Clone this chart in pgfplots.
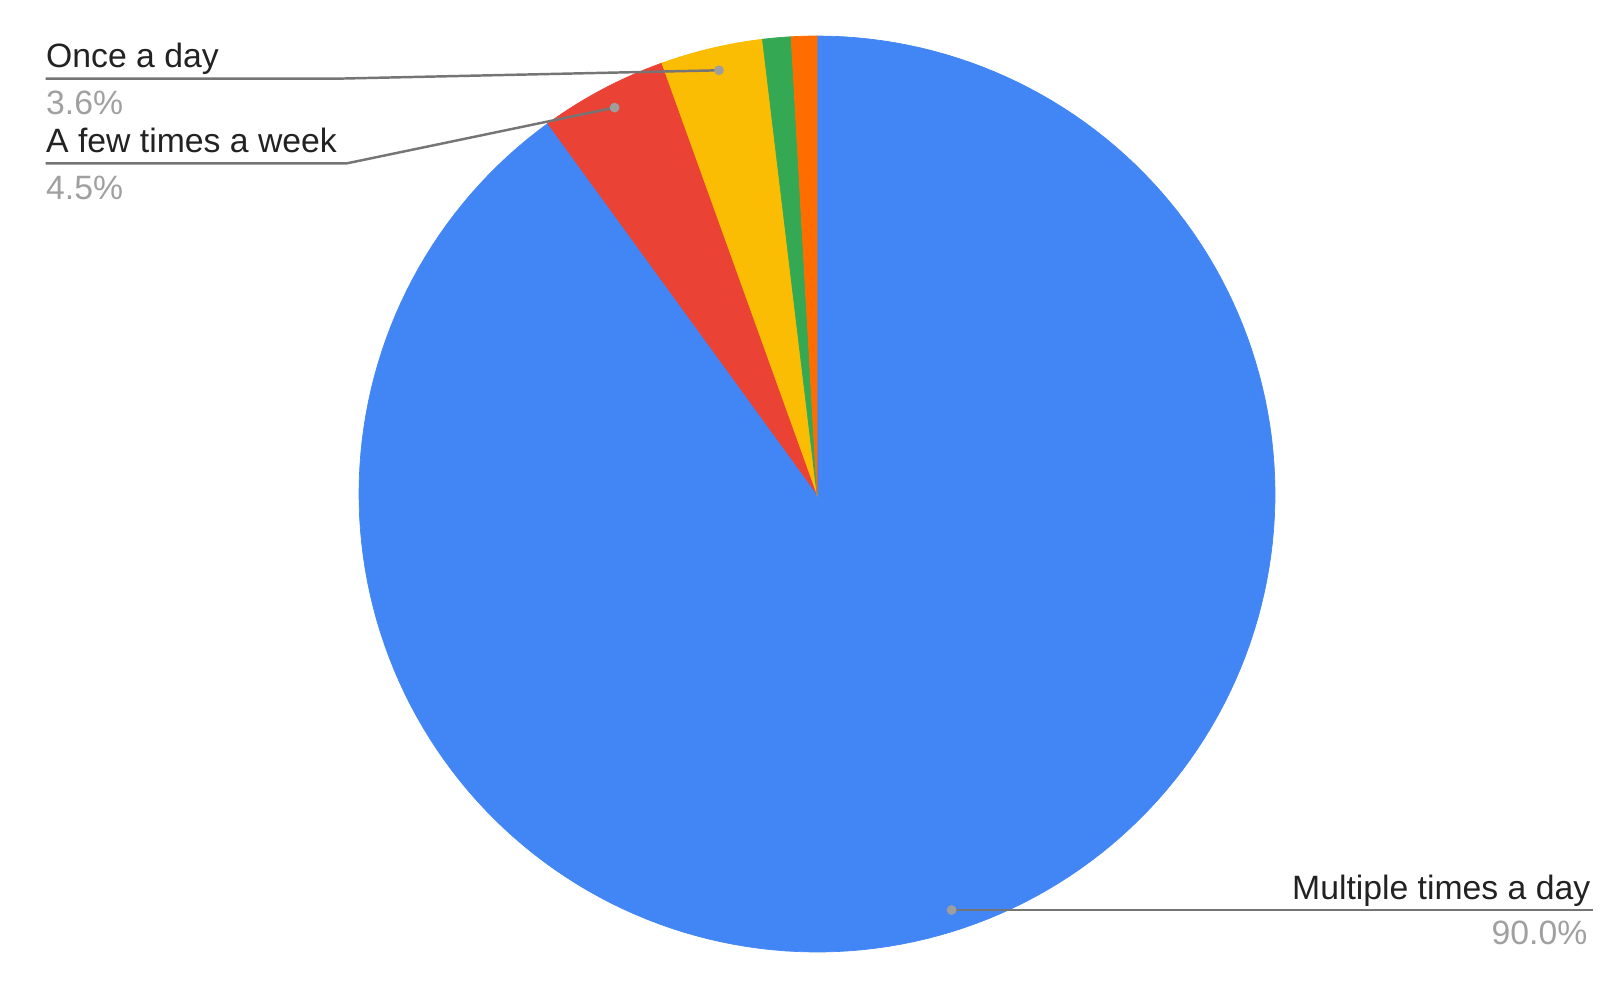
\documentclass[border=0pt]{standalone}
\usepackage{fontspec}
\setmainfont{Liberation Sans}
\usepackage{pgfplots}
\usepackage{pgfplotstable}
\pgfplotsset{compat=1.18}

\definecolor{gblue}{HTML}{4285F4}
\definecolor{gred}{HTML}{EA4335}
\definecolor{gyellow}{HTML}{FBBC04}
\definecolor{ggreen}{HTML}{34A853}
\definecolor{gorange}{HTML}{FF6D01}
\definecolor{txt}{HTML}{222222}
\definecolor{pct}{HTML}{A0A0A0}
\definecolor{leader}{HTML}{757575}
\definecolor{dot}{HTML}{9E9E9E}

% share of answers, clockwise from 12 o'clock
\pgfplotstableread{
value color
90.0 gblue
4.5  gred
3.6  gyellow
1.0  ggreen
0.9  gorange
}\piedata

\tikzset{lbl/.style={inner sep=0, font=\fontsize{9.6}{11}\selectfont}}

\begin{document}
\begin{tikzpicture}
\begin{axis}[
  scale only axis, width=16.22cm, height=9.97cm,
  xmin=0, xmax=1622, ymin=0, ymax=997,
  hide axis, clip=false,
]
\path (rel axis cs:0,0) rectangle (rel axis cs:1,1);
\def\acc{0}
\pgfplotsforeachungrouped \i in {0,...,4}{
  \pgfplotstablegetelem{\i}{value}\of\piedata \let\val\pgfplotsretval
  \pgfplotstablegetelem{\i}{color}\of\piedata \let\col\pgfplotsretval
  \pgfmathsetmacro\aS{90-3.6*\acc}
  \pgfmathsetmacro\acc{\acc+\val}
  \pgfmathsetmacro\aE{90-3.6*\acc}
  \edef\temp{\noexpand\addplot[fill=\col, draw=\col, line width=0.2pt, domain=\aE:\aS, samples=200]
    ({817+458*cos(x)},{503+458*sin(x)}) -- (axis cs:817,503) -- cycle;}
  \temp
}

% leader lines
\draw[leader, line width=0.7pt] (axis cs:45.5,918.4) -- (axis cs:340,918.4) -- (axis cs:719,926.7);
\fill[dot] (axis cs:719,926.7) circle (1.4pt);
\draw[leader, line width=0.7pt] (axis cs:45.5,833.6) -- (axis cs:346.6,833.6) -- (axis cs:614.6,889.4);
\fill[dot] (axis cs:614.6,889.4) circle (1.4pt);
\draw[leader, line width=0.7pt] (axis cs:951.6,87) -- (axis cs:1593,87);
\fill[dot] (axis cs:951.6,87) circle (1.4pt);

% labels
\node[lbl, anchor=base west, txt] at (axis cs:45.5,929) {Once a day};
\node[lbl, anchor=base west, pct] at (axis cs:45.5,883) {3.6\%};
\node[lbl, anchor=base west, txt] at (axis cs:45.5,844) {A few times a week};
\node[lbl, anchor=base west, pct] at (axis cs:45.5,797.4) {4.5\%};
\node[lbl, anchor=base east, txt] at (axis cs:1591,98) {Multiple times a day};
\node[lbl, anchor=base east, pct] at (axis cs:1588,53) {90.0\%};
\end{axis}
\end{tikzpicture}
\end{document}
